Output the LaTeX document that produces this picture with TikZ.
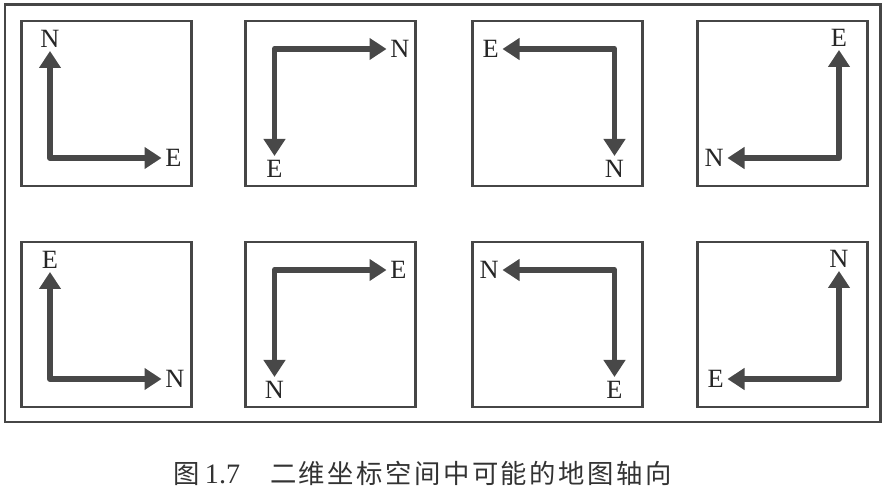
\documentclass[tikz,border=0pt]{standalone}
\usepackage{fontspec}
\setmainfont{Liberation Serif}
\newfontfamily\cjk[LetterSpace=9.5]{Noto Sans CJK SC}
\usetikzlibrary{arrows.meta}
\definecolor{inkgray}{RGB}{72,72,72}
\definecolor{framegray}{RGB}{70,70,70}

\begin{document}
\begin{tikzpicture}[
    box/.style={draw=framegray, line width=1.5pt},
    axis/.style={draw=inkgray, line width=3.4pt, line join=round,
      >={Triangle[width=0.42cm,length=0.34cm]}, <->},
    lbl/.style={inner sep=2pt, text=black!85, font=\fontsize{15}{17}\selectfont}]
  \useasboundingbox (0,0) rectangle (17.84,9.96);
  \fill[white] (0,0) rectangle (17.84,9.96);
  \draw[framegray, line width=1.7pt] (0.10,1.52) rectangle (17.60,9.86);

  \begin{scope}[shift={(0.43,6.24)}]
    \draw[box] (0,0) rectangle (3.40,3.30);
    \node[lbl, anchor=south] (n1) at (0.57,2.70) {N};
    \node[lbl, anchor=west] (e1) at (2.80,0.56) {E};
    \draw[axis] (n1) |- (e1);
  \end{scope}
  \begin{scope}[shift={(4.91,6.24)}]
    \draw[box] (0,0) rectangle (3.40,3.30);
    \node[lbl, anchor=west] (n2) at (2.82,2.74) {N};
    \node[lbl, anchor=north] (e2) at (0.58,0.60) {E};
    \draw[axis] (e2) |- (n2);
  \end{scope}
  \begin{scope}[shift={(9.45,6.24)}]
    \draw[box] (0,0) rectangle (3.40,3.30);
    \node[lbl, anchor=east] (e3) at (0.60,2.74) {E};
    \node[lbl, anchor=north] (n3) at (2.84,0.60) {N};
    \draw[axis] (n3) |- (e3);
  \end{scope}
  \begin{scope}[shift={(13.95,6.24)}]
    \draw[box] (0,0) rectangle (3.40,3.30);
    \node[lbl, anchor=south] (e4) at (2.83,2.72) {E};
    \node[lbl, anchor=east] (n4) at (0.60,0.56) {N};
    \draw[axis] (e4) |- (n4);
  \end{scope}

  \begin{scope}[shift={(0.43,1.82)}]
    \draw[box] (0,0) rectangle (3.40,3.30);
    \node[lbl, anchor=south] (e5) at (0.57,2.70) {E};
    \node[lbl, anchor=west] (n5) at (2.80,0.56) {N};
    \draw[axis] (e5) |- (n5);
  \end{scope}
  \begin{scope}[shift={(4.91,1.82)}]
    \draw[box] (0,0) rectangle (3.40,3.30);
    \node[lbl, anchor=west] (e6) at (2.82,2.74) {E};
    \node[lbl, anchor=north] (n6) at (0.58,0.60) {N};
    \draw[axis] (n6) |- (e6);
  \end{scope}
  \begin{scope}[shift={(9.45,1.82)}]
    \draw[box] (0,0) rectangle (3.40,3.30);
    \node[lbl, anchor=east] (n7) at (0.60,2.74) {N};
    \node[lbl, anchor=north] (e7) at (2.84,0.60) {E};
    \draw[axis] (e7) |- (n7);
  \end{scope}
  \begin{scope}[shift={(13.95,1.82)}]
    \draw[box] (0,0) rectangle (3.40,3.30);
    \node[lbl, anchor=south] (n8) at (2.83,2.72) {N};
    \node[lbl, anchor=east] (e8) at (0.60,0.56) {E};
    \draw[axis] (n8) |- (e8);
  \end{scope}

  \node[anchor=west, inner sep=0pt, text=black!80, font=\fontsize{15}{18}\selectfont] (cap) at (3.46,0.50)
    {{\cjk 图}\hspace{3pt}{\fontsize{16}{18}\selectfont 1.7}\hspace{17pt}{\cjk 二维坐标空间中可能的地图轴向}};
\end{tikzpicture}
\end{document}
